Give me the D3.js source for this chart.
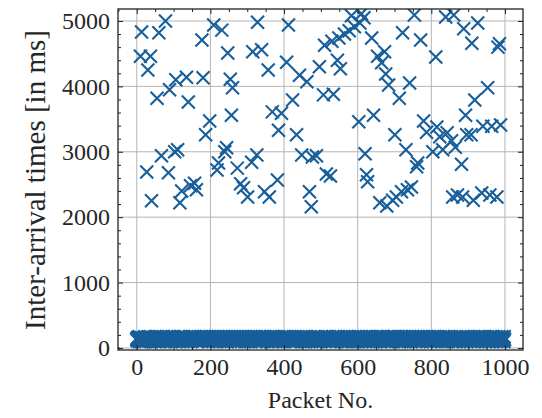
<!DOCTYPE html>
<html>
<head>
<meta charset="utf-8">
<script src="https://cdn.jsdelivr.net/npm/d3@7"></script>
<style>
  body { margin: 0; background: #fff; }
  svg text { font-family: "Liberation Serif", "Times New Roman", Times, serif; fill: #262626; }
</style>
</head>
<body>
<div id="chart"></div>
<script>
// tick labels
const xTicks = [0, 200, 400, 600, 800, 1000];
const yTicks = [0, 1000, 2000, 3000, 4000, 5000];

// packets whose inter-arrival time jumped
const outlierPackets = [
  10, 13, 27, 30, 37, 40, 55, 60, 67, 78, 86, 89, 103, 106, 111, 117, 122, 135, 140, 146,
  157, 162, 177, 180, 187, 198, 209, 218, 222, 231, 239, 244, 247, 254, 257, 260, 273, 282, 290, 301,
  312, 315, 326, 328, 339, 347, 357, 360, 368, 382, 385, 393, 407, 412, 423, 434, 442, 448, 462, 469,
  474, 477, 488, 496, 507, 510, 515, 526, 530, 534, 545, 549, 553, 564, 577, 583, 591, 603, 606, 610,
  617, 620, 624, 627, 638, 643, 654, 660, 665, 673, 676, 679, 684, 695, 701, 705, 713, 719, 722, 731,
  735, 741, 746, 754, 760, 763, 771, 779, 787, 804, 812, 815, 823, 831, 839, 843, 855, 858, 861, 865,
  871, 882, 885, 888, 893, 896, 908, 910, 914, 918, 926, 937, 940, 953, 959, 964, 978, 981, 985, 988
];
const outlierValues = [
  4460, 4830, 2690, 4250, 4460, 2250, 3820, 4820, 2940, 5000, 2680, 3950, 3000, 4100, 3030, 2220, 2400, 4140, 3760, 2480,
  2520, 2420, 4710, 4130, 3260, 3470, 4940, 2720, 2830, 4860, 3000, 3060, 4510, 4110, 3560, 3980, 2750, 2510, 2450, 2310,
  2840, 4530, 2950, 4980, 4560, 2390, 4250, 2310, 3610, 2570, 3330, 3590, 4370, 4940, 3790, 3260, 4170, 2950, 4070, 2390,
  2160, 2920, 2940, 4300, 3870, 4630, 2660, 2630, 4690, 3880, 4400, 4740, 4270, 4800, 4850, 5080, 4910, 3460, 4970, 5110,
  5050, 2970, 2650, 2540, 4740, 3560, 4460, 2220, 4360, 4530, 4190, 2170, 4020, 2260, 3260, 2310, 3820, 2390, 4820, 3030,
  2420, 4050, 2460, 5090, 2770, 2830, 4710, 3470, 3300, 3000, 4450, 3380, 3230, 3030, 5060, 3290, 3170, 2310, 5090, 3070,
  2340, 2810, 2310, 4880, 3560, 3260, 3260, 4660, 2260, 3790, 4970, 2370, 3390, 3980, 2340, 3390, 2310, 4600, 4650, 3410
];

// normal packets: one digit per packet number 0..999, time = 80 + 10 * digit ms
const bandDigits = [
  "57386 49275 68391 57462 83957 26485 79346 58273 96485 37569",
  "48267 59384 72658 39475 86293 57468 29574 68395 47286 59374",
  "63958 47265 38496 75283 69457 28496 57384 96275 48369 57284",
  "79365 48297 56384 27596 84365 79248 36597 48265 93748 26589",
  "38475 69284 57396 48275 39684 72596 48357 69284 57396 28475",
  "96384 57269 48375 96248 37569 84273 59648 27395 68472 39586",
  "47295 68374 29586 47396 58274 96385 47269 58374 29685 47396",
  "58372 96485 27396 48572 69384 57296 38475 96284 57369 48275",
  "69483 57294 86375 29684 57392 68475 39286 57493 68275 49386",
  "27594 68372 95486 37259 64837 25968 47382 96574 28396 57482",
  "83956 47283 69574 28396 57482 69375 48296 37584 69273 58496",
  "37485 96273 58496 37258 49637 28495 67384 29576 48392 67584",
  "59263 84759 36284 75963 48275 96384 72596 48375 69284 57396",
  "48296 57384 69275 38496 57283 69485 27396 58473 69285 47396",
  "72958 46385 97264 58397 26485 97362 48597 36285 94736 28495",
  "96374 85296 37485 96274 85396 27485 96374 58296 47385 96274",
  "38596 47285 96374 58296 47385 96374 28596 47385 96274 58396",
  "57384 96275 48396 57284 69375 48296 57384 69275 48396 57284",
  "69475 38296 57468 39275 84659 37284 96573 48269 57384 96275",
  "48395 67284 59376 48295 67384 59276 48395 67284 59376 48295"
];

const width = 542, height = 418;
const plot = {left: 118, right: 523, top: 9, bottom: 350};
const color = '#175f9b';
const serif = '"Liberation Serif", "Times New Roman", Times, serif';

// build the packet table
const outlierSet = new Set(outlierPackets);
const digits = bandDigits.join('').replace(/\s/g, '');
const points = [];
for (let i = 0; i < digits.length; i++) {
  if (!outlierSet.has(i)) points.push({packet: i, value: 80 + 10 * +digits[i]});
}
outlierPackets.forEach((p, i) => points.push({packet: p, value: outlierValues[i]}));

const svg = d3.select('#chart').append('svg')
  .attr('width', width)
  .attr('height', height)
  .attr('font-family', serif);

const x = d3.scaleLinear().domain([-51, 1049]).range([plot.left, plot.right]);
const y = d3.scaleLinear().domain([-31, 5183]).range([plot.bottom, plot.top]);

// grid
const grid = svg.append('g').attr('stroke', '#b4b4b4').attr('stroke-width', 1);
grid.selectAll('.gx').data(xTicks).enter().append('line')
  .attr('x1', d => x(d)).attr('x2', d => x(d))
  .attr('y1', plot.top).attr('y2', plot.bottom);
grid.selectAll('.gy').data(yTicks).enter().append('line')
  .attr('y1', d => y(d)).attr('y2', d => y(d))
  .attr('x1', plot.left).attr('x2', plot.right);

// markers, clipped to the frame
svg.append('clipPath').attr('id', 'clip')
  .append('rect')
  .attr('x', plot.left).attr('y', plot.top)
  .attr('width', plot.right - plot.left).attr('height', plot.bottom - plot.top);

const h = 6.5;
svg.append('g')
  .attr('clip-path', 'url(#clip)')
  .selectAll('path')
  .data(points)
  .enter().append('path')
    .attr('d', d => {
      const cx = x(d.packet), cy = y(d.value);
      return `M${cx - h},${cy - h}L${cx + h},${cy + h}M${cx - h},${cy + h}L${cx + h},${cy - h}`;
    })
    .attr('fill', 'none')
    .attr('stroke', color)
    .attr('stroke-width', 2.1);

// axes (inward ticks on all four sides)
const xMinor = d3.range(-50, 1050, 50).filter(v => v % 200 !== 0);
const yMinor = d3.range(0, 5200, 200).filter(v => v % 1000 !== 0);

function styleAxis(g) {
  g.attr('font-family', serif);
  g.select('.domain').remove();
  g.selectAll('line').attr('stroke', '#222').attr('stroke-width', 1);
  g.selectAll('text').attr('font-size', 24).attr('fill', '#262626');
}

svg.append('g').attr('transform', `translate(0,${plot.bottom})`)
  .call(d3.axisBottom(x).tickValues(xTicks).tickSize(-5).tickPadding(8).tickFormat(d3.format('d')))
  .call(styleAxis);
svg.append('g').attr('transform', `translate(0,${plot.bottom})`)
  .call(d3.axisBottom(x).tickValues(xMinor).tickSize(-3).tickFormat(''))
  .call(styleAxis);
svg.append('g').attr('transform', `translate(0,${plot.top})`)
  .call(d3.axisTop(x).tickValues(xTicks).tickSize(-5).tickFormat(''))
  .call(styleAxis);
svg.append('g').attr('transform', `translate(0,${plot.top})`)
  .call(d3.axisTop(x).tickValues(xMinor).tickSize(-3).tickFormat(''))
  .call(styleAxis);

svg.append('g').attr('transform', `translate(${plot.left},0)`)
  .call(d3.axisLeft(y).tickValues(yTicks).tickSize(-5).tickPadding(8).tickFormat(d3.format('d')))
  .call(styleAxis);
svg.append('g').attr('transform', `translate(${plot.left},0)`)
  .call(d3.axisLeft(y).tickValues(yMinor).tickSize(-3).tickFormat(''))
  .call(styleAxis);
svg.append('g').attr('transform', `translate(${plot.right},0)`)
  .call(d3.axisRight(y).tickValues(yTicks).tickSize(-5).tickFormat(''))
  .call(styleAxis);
svg.append('g').attr('transform', `translate(${plot.right},0)`)
  .call(d3.axisRight(y).tickValues(yMinor).tickSize(-3).tickFormat(''))
  .call(styleAxis);

// frame
svg.append('rect')
  .attr('x', plot.left).attr('y', plot.top)
  .attr('width', plot.right - plot.left).attr('height', plot.bottom - plot.top)
  .attr('fill', 'none')
  .attr('stroke', '#222')
  .attr('stroke-width', 1.3);

// axis titles
svg.append('text')
  .attr('x', (plot.left + plot.right) / 2)
  .attr('y', 408)
  .attr('text-anchor', 'middle')
  .attr('font-size', 24)
  .text('Packet No.');

svg.append('text')
  .attr('transform', 'translate(45,180) rotate(-90)')
  .attr('text-anchor', 'middle')
  .attr('font-size', 29)
  .text('Inter-arrival times [in ms]');
</script>
</body>
</html>
